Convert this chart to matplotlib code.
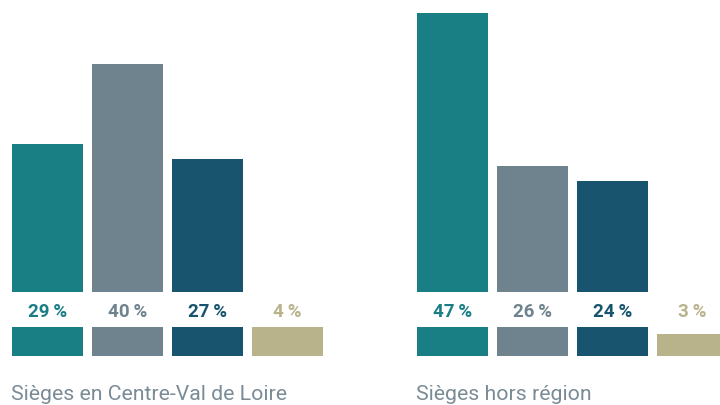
import matplotlib
matplotlib.use("Agg")
import matplotlib.pyplot as plt

categories = ["Cat A", "Cat B", "Cat C", "Cat D"]
panel_titles = ["Sièges en Centre-Val de Loire", "Sièges hors région"]
values_centre = [29, 40, 27, 4]
values_hors = [47, 26, 24, 3]
colors = ["#1a7f84", "#6f838e", "#18546e", "#b8b38a"]

W, H = 720, 405
fig = plt.figure(figsize=(7.2, 4.05), dpi=100)

px_per_unit = 7.3
base_px = 356          # baseline, pixels from top
band_lo, band_hi = 4.0, 8.77
label_y = 6.07

def make_panel(left_px, values, title, title_x):
    slot = 80.0
    ax_left = left_px - slot / 2
    ax_right = min(ax_left + 4 * slot, W)
    nunits = (ax_right - ax_left) / slot
    ax = fig.add_axes([ax_left / W, (H - base_px) / H, (ax_right - ax_left) / W, base_px / H])
    ax.set_xlim(-0.5, -0.5 + nunits)
    ax.set_ylim(0, base_px / px_per_unit)
    x = range(len(values))
    ax.bar(x, values, width=71 / 80, color=colors, linewidth=0)
    ax.axhspan(band_lo, band_hi, color="white", zorder=3, linewidth=0)
    for i, v in enumerate(values):
        ax.text(i, label_y, f"{v}\u2009%", ha="center", va="center", color=colors[i],
                fontsize=13.5, fontweight="bold", family="Roboto", zorder=4)
    ax.axis("off")
    fig.text(title_x / W, 1 - 400 / H, title, ha="left", va="baseline",
             fontsize=15.3, color="#7a8b96", family="Roboto")

make_panel(47.5, values_centre, panel_titles[0], 11)
make_panel(452.5, values_hors, panel_titles[1], 416)

fig.savefig("out.png", dpi=100)
